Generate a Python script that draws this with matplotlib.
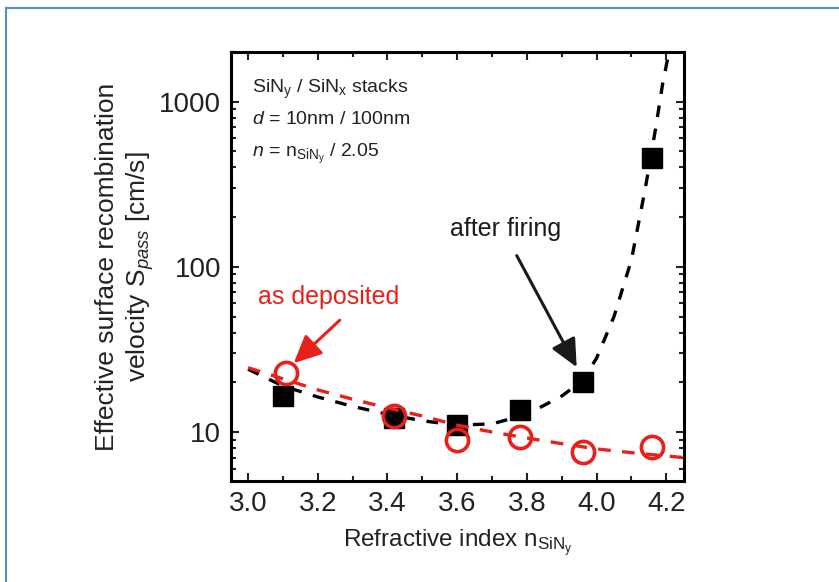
import matplotlib
matplotlib.use("Agg")
import matplotlib.pyplot as plt
from matplotlib.lines import Line2D
from matplotlib.ticker import LogLocator, MultipleLocator, NullFormatter

plt.rcParams['font.family'] = ['Liberation Sans', 'DejaVu Sans']
plt.rcParams['mathtext.fontset'] = 'custom'
plt.rcParams['mathtext.rm'] = 'Liberation Sans'
plt.rcParams['mathtext.it'] = 'Liberation Sans:italic'

# measured points
n_fired = [3.10, 3.42, 3.60, 3.78, 3.96, 4.16]
s_fired = [16.5, 12.1, 11.0, 13.6, 20.0, 453]
n_depo = [3.11, 3.42, 3.60, 3.78, 3.96, 4.16]
s_depo = [22.7, 12.5, 8.95, 9.3, 7.6, 8.1]

# guide-to-the-eye curves
n_fit_fired = [3.00, 3.10, 3.20, 3.30, 3.40, 3.50, 3.60, 3.70, 3.80, 3.90, 3.96,
               4.00, 4.05, 4.10, 4.14, 4.17, 4.19, 4.21]
s_fit_fired = [24.0, 19.0, 16.3, 14.3, 12.8, 11.7, 11.0, 11.2, 12.8, 16.5, 20.5,
               28, 50, 110, 300, 700, 1300, 2100]
n_fit_depo = [3.00, 3.10, 3.20, 3.30, 3.40, 3.50, 3.60, 3.70, 3.80, 3.90, 4.00, 4.10, 4.25]
s_fit_depo = [24.5, 21.0, 18.0, 15.8, 14.0, 12.5, 11.0, 10.0, 9.2, 8.5, 7.9, 7.5, 7.0]

fig = plt.figure(figsize=(8.39, 5.82), dpi=100)
ax = fig.add_axes([0.2753, 0.1735, 0.540, 0.7372])

ax.plot(n_fit_fired, s_fit_fired, color='black', lw=2.4, dashes=(3.5, 3.5), zorder=2)
ax.plot(n_fired, s_fired, 's', color='black', ms=14.5, zorder=3)
ax.plot(n_fit_depo, s_fit_depo, color='#e8201c', lw=2.4, dashes=(3.8, 3.4), zorder=4)
ax.plot(n_depo, s_depo, 'o', mfc='none', mec='#e8201c', mew=2.6, ms=16, zorder=5)

ax.set_yscale('log')
ax.set_xlim(2.951, 4.251)
ax.set_ylim(5.05, 2000)
ax.xaxis.set_minor_locator(MultipleLocator(0.1))
ax.yaxis.set_minor_locator(LogLocator(base=10, subs=range(2, 10), numticks=10))
ax.yaxis.set_minor_formatter(NullFormatter())
ax.set_yticks([10, 100, 1000])
ax.set_yticklabels(['10', '100', '1000'])
ax.set_xticks([3.0, 3.2, 3.4, 3.6, 3.8, 4.0, 4.2])
ax.set_xticklabels(['3.0', '3.2', '3.4', '3.6', '3.8', '4.0', '4.2'])
ax.tick_params(which='both', direction='in', top=True, right=True, width=1.5,
               labelsize=20, colors='#222222', pad=7)
ax.tick_params(which='major', length=6)
ax.tick_params(which='minor', length=3.5)
for sp in ax.spines.values():
    sp.set_linewidth(2.2)

ax.set_xlabel(r'Refractive index n$_{\mathregular{SiN_y}}$', fontsize=17.5, color='#222222', labelpad=8)
ax.set_ylabel('Effective surface recombination\n' + r'velocity S$_{pass}$ [cm/s]',
              fontsize=19, color='#222222', labelpad=2, linespacing=1.25)

txt = dict(fontsize=14, color='#222222', transform=ax.transAxes, va='top', ha='left')
ax.text(0.047, 0.94, r'SiN$_\mathregular{y}$ / SiN$_\mathregular{x}$ stacks', **txt)
ax.text(0.047, 0.862, r'$d$ = 10nm / 100nm', **txt)
ax.text(0.047, 0.79, r'$n$ = n$_{\mathregular{SiN_y}}$ / 2.05', **txt)

# labels and arrows
ax.text(3.231, 65.5, 'as deposited', fontsize=18, color='#e8201c', ha='center', va='center')
ax.text(3.74, 169, 'after firing', fontsize=18, color='#1a1a1a', ha='center', va='center')
arrow = '-|>,head_length=0.85,head_width=0.4'
ax.annotate('', xy=(3.131, 26.1), xytext=(3.263, 47.5),
            arrowprops=dict(arrowstyle=arrow, mutation_scale=20, color='#e8201c',
                            lw=2.2, shrinkA=0, shrinkB=0))
ax.annotate('', xy=(3.943, 24.7), xytext=(3.771, 117),
            arrowprops=dict(arrowstyle=arrow, mutation_scale=20, color='#1a1a1a',
                            lw=2.2, shrinkA=0, shrinkB=0))

# blue frame of the source page
fig.add_artist(Line2D([0.007, 1.0], [0.986, 0.986], transform=fig.transFigure,
                      color='#4a90cf', lw=1.5))
fig.add_artist(Line2D([0.007, 0.007], [0.0, 0.986], transform=fig.transFigure,
                      color='#4a90cf', lw=1.5))

fig.savefig('out.png', dpi=100)
